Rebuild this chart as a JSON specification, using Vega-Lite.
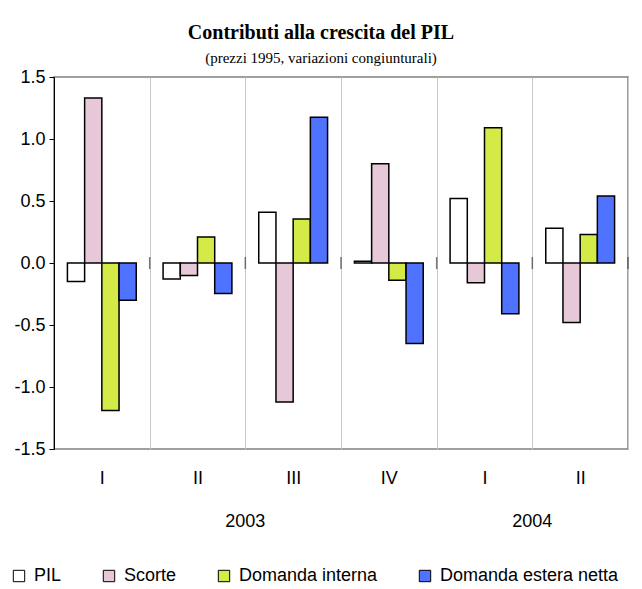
{
  "$schema": "https://vega.github.io/schema/vega-lite/v6.json",
  "width": 574,
  "height": 372,
  "autosize": {"type": "none"},
  "padding": {"left": 54, "top": 77, "right": 14, "bottom": 140},
  "background": "white",
  "title": {
    "text": "Contributi alla crescita del PIL",
    "subtitle": "(prezzi 1995, variazioni congiunturali)",
    "font": "Liberation Serif",
    "fontSize": 20,
    "fontWeight": "bold",
    "subtitleFont": "Liberation Serif",
    "subtitleFontSize": 15,
    "subtitleColor": "black",
    "color": "black",
    "subtitlePadding": 8,
    "anchor": "middle",
    "dx": -20,
    "offset": 2
  },
  "datasets": {
    "bars": [
      {"q": "2003-I", "s": "PIL", "v": -0.15},
      {"q": "2003-I", "s": "Scorte", "v": 1.33},
      {"q": "2003-I", "s": "Domanda interna", "v": -1.19},
      {"q": "2003-I", "s": "Domanda estera netta", "v": -0.30},
      {"q": "2003-II", "s": "PIL", "v": -0.13},
      {"q": "2003-II", "s": "Scorte", "v": -0.10},
      {"q": "2003-II", "s": "Domanda interna", "v": 0.21},
      {"q": "2003-II", "s": "Domanda estera netta", "v": -0.245},
      {"q": "2003-III", "s": "PIL", "v": 0.41},
      {"q": "2003-III", "s": "Scorte", "v": -1.12},
      {"q": "2003-III", "s": "Domanda interna", "v": 0.355},
      {"q": "2003-III", "s": "Domanda estera netta", "v": 1.175},
      {"q": "2003-IV", "s": "PIL", "v": 0.015},
      {"q": "2003-IV", "s": "Scorte", "v": 0.80},
      {"q": "2003-IV", "s": "Domanda interna", "v": -0.14},
      {"q": "2003-IV", "s": "Domanda estera netta", "v": -0.65},
      {"q": "2004-I", "s": "PIL", "v": 0.52},
      {"q": "2004-I", "s": "Scorte", "v": -0.16},
      {"q": "2004-I", "s": "Domanda interna", "v": 1.09},
      {"q": "2004-I", "s": "Domanda estera netta", "v": -0.41},
      {"q": "2004-II", "s": "PIL", "v": 0.28},
      {"q": "2004-II", "s": "Scorte", "v": -0.48},
      {"q": "2004-II", "s": "Domanda interna", "v": 0.23},
      {"q": "2004-II", "s": "Domanda estera netta", "v": 0.54}
    ],
    "quarters": [
      {"q": "2003-I"}, {"q": "2003-II"}, {"q": "2003-III"},
      {"q": "2003-IV"}, {"q": "2004-I"}, {"q": "2004-II"}
    ],
    "years": [
      {"q": "2003-II", "t": "2003"},
      {"q": "2004-I", "t": "2004"}
    ]
  },
  "layer": [
    {
      "data": {"name": "bars"},
      "mark": {"type": "bar", "stroke": "black", "strokeWidth": 1.5},
      "encoding": {
        "x": {
          "field": "q",
          "type": "nominal",
          "scale": {
            "domain": ["2003-I", "2003-II", "2003-III", "2003-IV", "2004-I", "2004-II"],
            "paddingInner": 0,
            "paddingOuter": 0
          },
          "axis": {
            "title": null,
            "orient": "bottom",
            "ticks": false,
            "domain": false,
            "grid": true,
            "gridColor": "#C8C8C8",
            "gridWidth": 1,
            "tickBand": "extent",
            "labelAngle": 0,
            "labelExpr": "split(datum.label, '-')[1]",
            "labelFont": "Liberation Sans",
            "labelFontSize": 18,
            "labelColor": "black",
            "labelPadding": 20
          }
        },
        "xOffset": {
          "field": "s",
          "type": "nominal",
          "sort": ["PIL", "Scorte", "Domanda interna", "Domanda estera netta"],
          "scale": {"paddingInner": 0, "paddingOuter": 0.78}
        },
        "y": {
          "field": "v",
          "type": "quantitative",
          "scale": {"domain": [-1.5, 1.5], "nice": false, "zero": false},
          "axis": {
            "title": null,
            "values": [-1.5, -1, -0.5, 0, 0.5, 1, 1.5],
            "labelExpr": "datum.value < 0 ? '-' + format(-datum.value, '.1f') : format(datum.value, '.1f')",
            "grid": false,
            "domainColor": "black",
            "domainWidth": 1,
            "tickColor": "black",
            "tickSize": 5,
            "labelFont": "Liberation Sans",
            "labelFontSize": 18,
            "labelColor": "black",
            "labelPadding": 4
          }
        },
        "fill": {
          "field": "s",
          "type": "nominal",
          "scale": {
            "domain": ["PIL", "Scorte", "Domanda interna", "Domanda estera netta"],
            "range": ["#FFFFFF", "#E6C8D8", "#D4EA46", "#5073FF"]
          },
          "legend": {
            "title": null,
            "orient": "none",
            "legendX": -44,
            "legendY": 490,
            "direction": "horizontal",
            "symbolType": "square",
            "symbolSize": 130,
            "symbolStrokeColor": "black",
            "symbolStrokeWidth": 1,
            "symbolOpacity": 1,
            "labelFont": "Liberation Sans",
            "labelFontSize": 18,
            "labelColor": "black",
            "labelOffset": 6,
            "labelLimit": 400,
            "columnPadding": 38
          }
        }
      }
    },
    {
      "mark": {"type": "rule", "color": "#808080", "strokeWidth": 1.5},
      "encoding": {"y": {"datum": 0}}
    },
    {
      "data": {"name": "quarters"},
      "mark": {"type": "tick", "orient": "vertical", "color": "#404040", "size": 12, "thickness": 1.5},
      "encoding": {
        "x": {"field": "q", "type": "nominal", "bandPosition": 1},
        "y": {"datum": 0}
      }
    },
    {
      "data": {"name": "years"},
      "mark": {"type": "text", "font": "Liberation Sans", "fontSize": 18, "color": "black", "baseline": "middle", "dy": 73},
      "encoding": {
        "x": {"field": "q", "type": "nominal", "bandPosition": 1},
        "y": {"datum": -1.5},
        "text": {"field": "t"}
      }
    }
  ],
  "config": {
    "view": {"stroke": "#808080", "strokeWidth": 1.5}
  }
}
